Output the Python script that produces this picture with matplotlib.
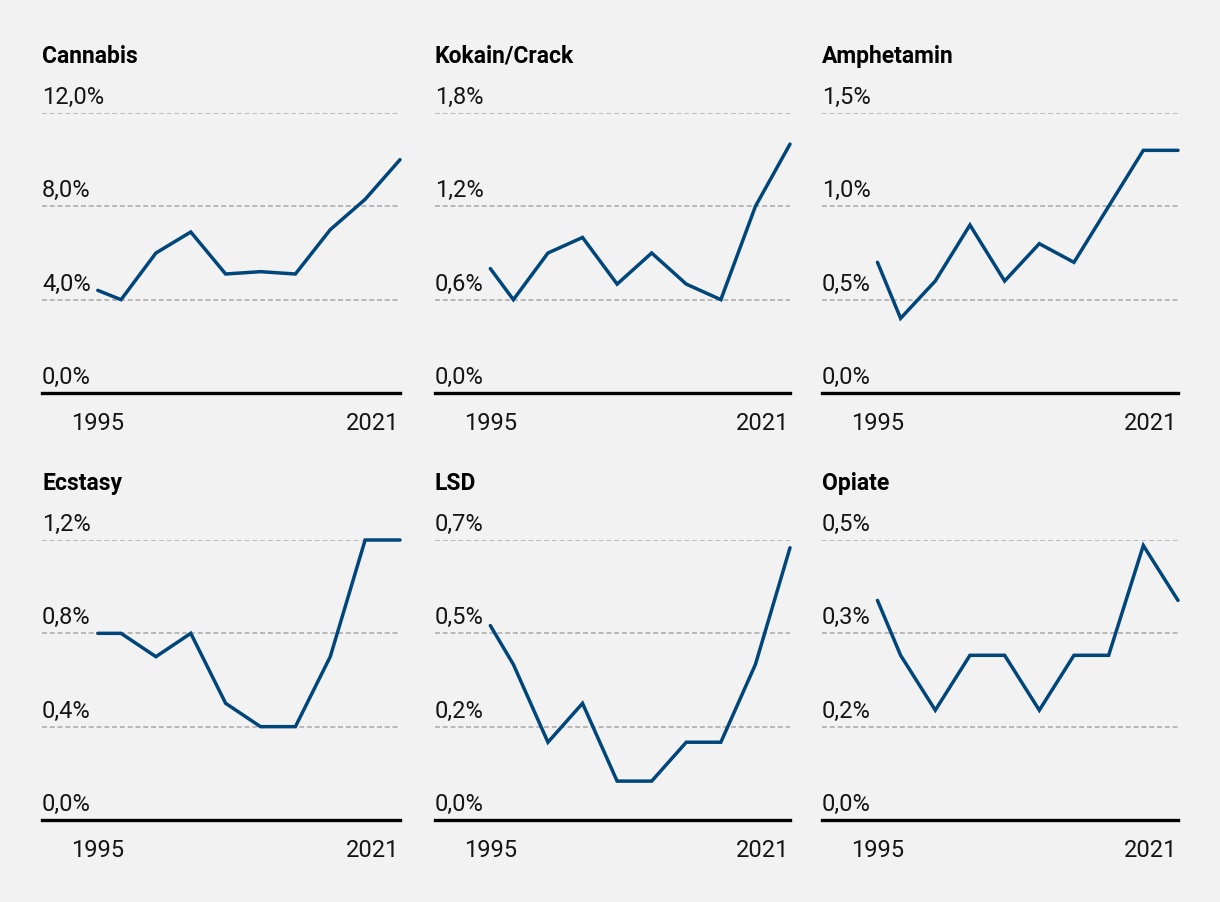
import matplotlib
matplotlib.use("Agg")
import matplotlib.pyplot as plt
import numpy as np

plt.rcParams['font.family'] = ['Roboto', 'DejaVu Sans']

years = [1995, 1997, 2000, 2003, 2006, 2009, 2012, 2015, 2018, 2021]

titles = ["Cannabis", "Kokain/Crack", "Amphetamin", "Ecstasy", "LSD", "Opiate"]

cannabis = [4.4, 4.0, 6.0, 6.9, 5.1, 5.2, 5.1, 7.0, 8.3, 10.0]
kokain = [0.8, 0.6, 0.9, 1.0, 0.7, 0.9, 0.7, 0.6, 1.2, 1.6]
amphetamin = [0.7, 0.4, 0.6, 0.9, 0.6, 0.8, 0.7, 1.0, 1.3, 1.3]
ecstasy = [0.8, 0.8, 0.7, 0.8, 0.5, 0.4, 0.4, 0.7, 1.2, 1.2]
lsd = [0.5, 0.4, 0.2, 0.3, 0.1, 0.1, 0.2, 0.2, 0.4, 0.7]
opiate = [0.4, 0.3, 0.2, 0.3, 0.3, 0.2, 0.3, 0.3, 0.5, 0.4]

series = [cannabis, kokain, amphetamin, ecstasy, lsd, opiate]
y_max = [12.0, 1.8, 1.5, 1.2, 0.72, 0.51]

line_color = "#00467a"
bg = "#f2f2f2"

W, H = 1220, 902
fig = plt.figure(figsize=(W / 100, H / 100), dpi=100, facecolor=bg)

# pixel boxes (left, right) per column and (top, bottom) per row
cols = [(42, 400), (435, 790), (822, 1178)]
rows = [(113, 393), (540, 820)]

for i in range(6):
    r, c = divmod(i, 3)
    x0, x1 = cols[c]
    t, b = rows[r]
    ax = fig.add_axes([x0 / W, 1 - b / H, (x1 - x0) / W, (b - t) / H])
    ax.set_facecolor(bg)

    ax.plot(years, series[i], color=line_color, lw=2.5,
            solid_capstyle='round', solid_joinstyle='miter', clip_on=False, zorder=3)

    ax.set_xlim(1990.2, 2021)
    ax.set_ylim(0, y_max[i])

    ticks = np.linspace(0, y_max[i], 4)
    ax.set_yticks(ticks[1:])
    ax.set_xticks([])
    ax.tick_params(axis='y', length=0, labelleft=False)
    ax.yaxis.grid(True, color="#a8a8a8", lw=1.1, linestyle=(0, (3.2, 1.9)))
    ax.set_axisbelow(True)

    for s in ['top', 'right', 'left']:
        ax.spines[s].set_visible(False)
    ax.spines['bottom'].set_color('black')
    ax.spines['bottom'].set_linewidth(2.4)
    ax.spines['bottom'].set_capstyle('projecting')

    for tv in ticks:
        lab = f"{tv:.1f}".replace(".", ",") + "%"
        ax.annotate(lab, xy=(0, tv), xycoords=('axes fraction', 'data'),
                    xytext=(0, 9), textcoords='offset pixels',
                    ha='left', va='baseline', fontsize=17, color='#151515')

    ax.annotate("1995", xy=(1995, 0), xycoords=('data', 'axes fraction'),
                xytext=(0, -37), textcoords='offset pixels',
                ha='center', va='baseline', fontsize=17, color='#151515')
    ax.annotate("2021", xy=(2021, 0), xycoords=('data', 'axes fraction'),
                xytext=(-1, -37), textcoords='offset pixels',
                ha='right', va='baseline', fontsize=17, color='#151515')

    ax.annotate(titles[i], xy=(0, 1), xycoords='axes fraction',
                xytext=(0, 50), textcoords='offset pixels',
                ha='left', va='baseline', fontsize=16.5, fontweight='bold', color='black')

fig.savefig("out.png", dpi=100, facecolor=bg)
